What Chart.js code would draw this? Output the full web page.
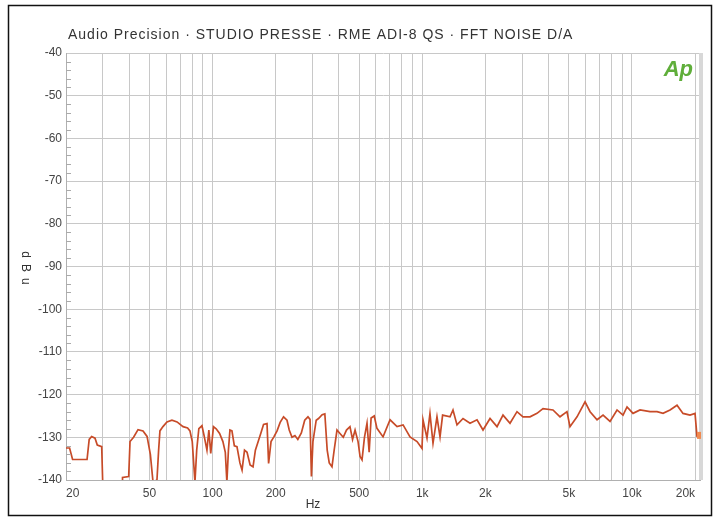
<!DOCTYPE html>
<html>
<head>
<meta charset="utf-8">
<script src="https://cdn.jsdelivr.net/npm/chart.js@4"></script>
<style>
  body { margin: 0; background: #fff; }
</style>
</head>
<body>
<canvas id="chart" width="719" height="521"></canvas>
<script>
// FFT noise spectrum, D/A output (dBu over Hz)
const freqs = [
    20, 20.8, 21.5, 25.2, 25.8, 26.5, 27.5, 28.2, 29.6, 30.1,
    37, 37.2, 39.8, 40.4, 42, 44.1, 46.6, 48.7, 50.5, 52,
    54.3, 55.3, 56.1, 58, 60.6, 64, 67.7, 72.3, 76, 78,
    80, 82.4, 84, 86, 89, 91, 94, 96, 98, 101,
    104, 108, 112, 115, 117, 119, 121, 123.7, 127, 130.7,
    135, 138.2, 142, 146, 151, 155.9, 160, 165, 170, 175,
    181.8, 185, 190, 196, 203, 210, 218, 226.4, 232, 239.2,
    247, 255, 265, 275, 285, 291.5, 296, 301, 312, 320,
    333, 343, 352, 360, 371, 380, 392, 405, 420, 435,
    452, 465, 478, 494, 505, 516, 530, 545, 558, 570,
    590, 608, 650, 702, 758, 810, 874, 944, 997, 1008,
    1053, 1088, 1125, 1175, 1215, 1250, 1356, 1401, 1464, 1564,
    1689, 1824, 1948, 2104, 2272, 2426, 2620, 2829, 3021, 3263,
    3524, 3764, 4200, 4537, 4897, 5061, 5468, 5972, 6311, 6813,
    7278, 7858, 8485, 9063, 9470, 10113, 10922, 12192, 13165, 14061,
    15185, 16395, 17510, 18910, 19980, 20420
];
const levels = [
    -132.5, -132.5, -135.2, -135.2, -130.5, -129.8, -130.2, -131.8, -132.2, -145,
    -145, -139.4, -139.2, -131, -130, -128.2, -128.5, -129.8, -134, -140.5,
    -140, -133, -128.5, -127.5, -126.4, -126, -126.4, -127.5, -127.8, -128.5,
    -131, -140.5, -133, -128, -127.3, -129.5, -133, -128.3, -133.8, -127.5,
    -128, -129.1, -131, -133.5, -140.5, -133, -128.3, -128.5, -132, -132.2,
    -136, -137.7, -133, -133.5, -136.5, -136.9, -133, -131, -129, -127,
    -126.8, -136.1, -131, -129.9, -128.5, -126.5, -125.2, -126, -128.3, -130,
    -129.6, -130.5, -129, -126, -125.2, -125.8, -139.2, -131, -126, -125.6,
    -124.7, -124.5, -133, -136, -136.9, -133, -128.3, -129.1, -130, -128.3,
    -127.5, -130.5, -128.3, -131, -134.5, -135.3, -130, -126.7, -133.5, -125.5,
    -125, -127.9, -129.9, -125.9, -127.5, -127.1, -129.9, -131, -132.6, -125.9,
    -130.2, -124.4, -131.4, -125.2, -129.9, -124.8, -125.2, -123.6, -127.1, -125.6,
    -126.7, -125.9, -128.3, -125.6, -127.5, -124.8, -126.7, -124.0, -125.2, -125.2,
    -124.4, -123.3, -123.6, -125.2, -124.0, -127.5, -125.2, -121.7, -124.0, -125.9,
    -124.8, -126.3, -123.6, -124.8, -122.9, -124.4, -123.6, -124.0, -124.0, -124.4,
    -123.6, -122.5, -124.4, -124.8, -124.4, -129.9
];

const xTicks = [20, 30, 40, 50, 60, 70, 80, 90, 100, 200, 300, 400, 500, 600, 700, 800, 900,
    1000, 2000, 3000, 4000, 5000, 6000, 7000, 8000, 9000, 10000, 20000];
const xLabels = { 20: '20', 50: '50', 100: '100', 200: '200', 500: '500',
    1000: '1k', 2000: '2k', 5000: '5k', 10000: '10k', 20000: '20k' };
const yTicks = [-40, -50, -60, -70, -80, -90, -100, -110, -120, -130, -140];

const points = freqs.map((f, i) => ({ x: f, y: levels[i] }));

const decorations = {
    id: 'decorations',
    afterDraw(chart) {
        const ctx = chart.ctx;
        const area = chart.chartArea;
        const y = chart.scales.y;
        ctx.save();

        // minor ticks every 2 dB
        ctx.strokeStyle = '#aaa';
        ctx.lineWidth = 1;
        for (let v = -42; v > -140; v -= 2) {
            if (v % 10 === 0) continue;
            const py = Math.round(y.getPixelForValue(v)) + 0.5;
            ctx.beginPath();
            ctx.moveTo(area.left, py);
            ctx.lineTo(area.left + 5, py);
            ctx.stroke();
        }

        // right edge of plot
        ctx.strokeStyle = '#d8d8d8';
        ctx.lineWidth = 4;
        ctx.beginPath();
        ctx.moveTo(area.right + 1, area.top);
        ctx.lineTo(area.right + 1, area.bottom);
        ctx.stroke();

        // end marker
        const last = points[points.length - 1];
        const ex = chart.scales.x.getPixelForValue(last.x);
        const ey = y.getPixelForValue(last.y);
        ctx.fillStyle = '#f08a50';
        ctx.fillRect(ex, ey - 5, 4, 7);

        // outer frame
        ctx.strokeStyle = '#111';
        ctx.lineWidth = 1.5;
        ctx.strokeRect(8.5, 5.5, 703, 510);

        // title
        ctx.fillStyle = '#333';
        ctx.font = '14px "Liberation Sans", Arial, sans-serif';
        ctx.textBaseline = 'middle';
        ctx.textAlign = 'left';
        ctx.letterSpacing = '1px';
        ctx.fillText('Audio Precision · STUDIO PRESSE · RME ADI-8 QS · FFT NOISE D/A', 68, 35);
        ctx.letterSpacing = '0px';

        // axis titles
        ctx.font = '12px "Liberation Sans", Arial, sans-serif';
        ctx.textAlign = 'center';
        ctx.fillText('Hz', 313, 505);
        ctx.save();
        ctx.translate(25, 268);
        ctx.rotate(Math.PI / 2);
        ctx.letterSpacing = '6px';
        ctx.fillText('dBu', 3, 0);
        ctx.restore();

        // Ap logo
        ctx.fillStyle = '#5fae3a';
        ctx.font = 'italic bold 22px "Liberation Sans", Arial, sans-serif';
        ctx.textAlign = 'right';
        ctx.fillText('Ap', 693, 70);
        ctx.restore();
    }
};

const ctx = document.getElementById('chart').getContext('2d');

const myChart = new Chart(ctx, { // eslint-disable-line
    type: 'line',
    data: {
        datasets: [
            {
                label: 'FFT noise D/A',
                data: points,
                borderColor: '#c74b28',
                borderWidth: 1.7,
                pointRadius: 0,
                tension: 0
            }
        ]
    },
    options: {
        responsive: false,
        animation: false,
        devicePixelRatio: 1,
        layout: { padding: { top: 53, right: 19, left: 0, bottom: 0 } },
        plugins: {
            legend: { display: false },
            tooltip: { enabled: false }
        },
        scales: {
            x: {
                type: 'logarithmic',
                min: 20,
                max: 21100,
                afterBuildTicks: (scale) => {
                    scale.ticks = xTicks.map(v => ({ value: v }));
                },
                afterFit: (scale) => { scale.height = 41; },
                ticks: {
                    autoSkip: false,
                    maxRotation: 0,
                    align: 'inner',
                    padding: 6,
                    color: '#444',
                    font: { family: '"Liberation Sans", Arial, sans-serif', size: 12 },
                    callback: (v) => xLabels[v] || ''
                },
                grid: { color: '#c8c8c8', drawTicks: false },
                border: { color: '#b0b0b0' }
            },
            y: {
                min: -140,
                max: -40,
                afterBuildTicks: (scale) => {
                    scale.ticks = yTicks.map(v => ({ value: v }));
                },
                afterFit: (scale) => { scale.width = 66; },
                ticks: {
                    padding: 4,
                    color: '#444',
                    font: { family: '"Liberation Sans", Arial, sans-serif', size: 12 },
                    callback: (v) => String(v)
                },
                grid: { color: '#c8c8c8', drawTicks: false },
                border: { color: '#b0b0b0' }
            }
        }
    },
    plugins: [decorations]
});
</script>
</body>
</html>
